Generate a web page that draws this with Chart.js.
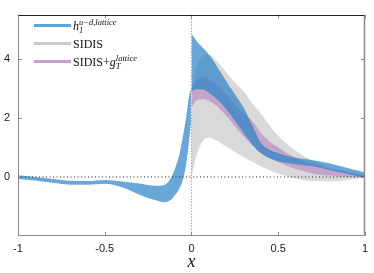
<!DOCTYPE html>
<html>
<head>
<meta charset="utf-8">
<script src="https://cdn.jsdelivr.net/npm/chart.js@4"></script>
<style>
  body { margin: 0; background: #fff; }
  #wrap { position: relative; width: 374px; height: 273px; }
  #legend { position: absolute; left: 34px; top: 17px; font-family: 'Liberation Serif', serif; font-size: 12px; color: #111; }
  .row { position: relative; height: 18px; line-height: 18px; white-space: nowrap; }
  .sw { display: inline-block; width: 37px; height: 3px; vertical-align: 3px; margin-right: 2px; }
  .ss { display: inline-block; font-size: 8.5px; line-height: 8px; vertical-align: -3px; font-style: italic; }
</style>
</head>
<body>
<div id="wrap">
  <canvas id="chart" width="374" height="273"></canvas>
  <div id="legend">
    <div class="row"><span class="sw" style="background:#5aa5d7"></span><i>h</i><span class="ss">u−d,lattice<br>1</span></div>
    <div class="row"><span class="sw" style="background:#cbcbcb"></span>SIDIS</div>
    <div class="row"><span class="sw" style="background:#c3a0cf"></span>SIDIS+<i>g</i><span class="ss">lattice<br>T</span></div>
  </div>
</div>
<script>
// lattice h1 band, x < 0
const xLeft = [-1, -0.9, -0.8, -0.7, -0.6, -0.5, -0.4, -0.3, -0.2, -0.16, -0.12, -0.1, -0.07, -0.05, -0.03, -0.015, -0.003];
const latLeftUp = [0.06, 0.0, -0.07, -0.13, -0.14, -0.1, -0.15, -0.22, -0.3, -0.28, -0.05, 0.2, 0.75, 1.35, 2.05, 2.7, 3.0];
const latLeftLo = [-0.07, -0.12, -0.2, -0.26, -0.26, -0.23, -0.35, -0.6, -0.8, -0.86, -0.78, -0.65, -0.4, -0.1, 0.45, 1.15, 1.8];

// x > 0 bands
const xRight = [0, 0.03, 0.07, 0.1, 0.15, 0.2, 0.25, 0.3, 0.35, 0.4, 0.45, 0.5, 0.6, 0.7, 0.8, 0.9, 1.0];
const latUp = [4.85, 4.6, 4.35, 4.15, 3.72, 3.25, 2.8, 2.35, 1.75, 1.15, 0.92, 0.8, 0.65, 0.57, 0.46, 0.3, 0.15];
const latLo = [2.9, 2.97, 2.96, 2.85, 2.62, 2.3, 1.9, 1.5, 1.1, 0.8, 0.63, 0.53, 0.43, 0.36, 0.23, 0.1, -0.03];
const sidisUp = [3.0, 3.75, 4.1, 4.15, 3.9, 3.55, 3.2, 2.9, 2.5, 2.15, 1.75, 1.4, 0.9, 0.55, 0.33, 0.18, 0.08];
const sidisLo = [0.0, 0.75, 1.25, 1.33, 1.22, 1.03, 0.85, 0.68, 0.52, 0.36, 0.23, 0.12, -0.05, -0.14, -0.15, -0.1, -0.02];
const gtUp = [3.0, 3.3, 3.38, 3.3, 3.1, 2.8, 2.45, 2.15, 1.9, 1.5, 1.2, 1.0, 0.65, 0.42, 0.27, 0.15, 0.05];
const gtLo = [2.35, 2.6, 2.64, 2.58, 2.38, 2.08, 1.72, 1.38, 1.08, 0.82, 0.65, 0.5, 0.27, 0.12, 0.04, 0.0, 0.0];

const xTicks = [-1, -0.5, 0, 0.5, 1];
const yTicks = [0, 2, 4];

const pts = (xs, ys) => xs.map((x, i) => ({ x, y: ys[i] }));

const BLUE = 'rgba(40,130,200,0.7)';
const PURPLE = 'rgb(196,164,202)';
const GREY = 'rgb(217,217,217)';

function band(data, color, fill, order) {
  return {
    data, fill, order,
    backgroundColor: color,
    borderColor: 'rgba(0,0,0,0)',
    borderWidth: 0,
    pointRadius: 0,
    cubicInterpolationMode: 'monotone',
  };
}

// frame and inward ticks
const framePlugin = {
  id: 'frame',
  afterDraw(chart) {
    const { ctx, chartArea: a, scales: { x, y } } = chart;
    ctx.save();
    ctx.lineWidth = 1;
    ctx.strokeStyle = '#8a8a8a';
    const seg = (x1, y1, x2, y2) => { ctx.beginPath(); ctx.moveTo(x1, y1); ctx.lineTo(x2, y2); ctx.stroke(); };
    xTicks.forEach(v => {
      const p = Math.round(x.getPixelForValue(v)) + 0.5;
      seg(p, a.bottom, p, a.bottom - 4);
      seg(p, a.top, p, a.top + 4);
    });
    yTicks.forEach(v => {
      const p = Math.round(y.getPixelForValue(v)) + 0.5;
      seg(a.left, p, a.left + 4, p);
      seg(a.right, p, a.right - 4, p);
    });
    const l = Math.round(a.left) + 0.5, r = Math.round(a.right) - 0.5;
    const t = Math.round(a.top) + 0.5, b = Math.round(a.bottom) - 0.5;
    seg(l, t, l, b);
    seg(l, b, r, b);
    ctx.lineWidth = 1.5;
    seg(r, t, r, b);
    ctx.strokeStyle = '#222';
    ctx.lineWidth = 1;
    seg(l, t, r, t);
    ctx.restore();
  }
};

new Chart(document.getElementById('chart'), {
  type: 'line',
  data: {
    datasets: [
      band(pts(xRight, latUp), BLUE, 1, 1),
      band(pts(xRight, latLo), BLUE, false, 1),
      band(pts(xLeft, latLeftUp), BLUE, 3, 1),
      band(pts(xLeft, latLeftLo), BLUE, false, 1),
      band(pts(xRight, gtUp), PURPLE, 5, 2),
      band(pts(xRight, gtLo), PURPLE, false, 2),
      band(pts(xRight, sidisUp), GREY, 7, 3),
      band(pts(xRight, sidisLo), GREY, false, 3),
      {
        data: [{ x: -1, y: 0 }, { x: 1, y: 0 }],
        borderColor: '#222', borderWidth: 1, borderDash: [1, 2.5],
        pointRadius: 0, fill: false, order: 0,
      },
      {
        data: [{ x: 0, y: -2 }, { x: 0, y: 5.5 }],
        borderColor: '#aaa', borderWidth: 1.2, borderDash: [1.5, 1.5],
        pointRadius: 0, fill: false, order: 0,
      },
    ],
  },
  options: {
    responsive: false,
    animation: false,
    layout: { padding: { top: 3, right: 7, left: 0, bottom: 0 } },
    plugins: { legend: { display: false }, tooltip: { enabled: false } },
    scales: {
      x: {
        type: 'linear', min: -1, max: 1,
        afterBuildTicks: s => { s.ticks = xTicks.map(v => ({ value: v })); },
        afterFit: s => { s.height = 37; },
        grid: { display: false, drawTicks: false },
        border: { display: false },
        ticks: { padding: 6, color: '#222', font: { family: 'Liberation Sans', size: 11 }, callback: v => String(v) },
        title: {
          display: true, text: 'x', color: '#111', padding: { top: 0, bottom: 0 },
          font: { family: 'Liberation Serif', style: 'italic', size: 18 },
        },
      },
      y: {
        type: 'linear', min: -2, max: 5.5,
        afterBuildTicks: s => { s.ticks = yTicks.map(v => ({ value: v })); },
        afterFit: s => { s.width = 18; },
        grid: { display: false, drawTicks: false },
        border: { display: false },
        ticks: { padding: 8, color: '#222', font: { family: 'Liberation Sans', size: 11 }, callback: v => String(v) },
      },
    },
  },
  plugins: [framePlugin],
});
</script>
</body>
</html>
